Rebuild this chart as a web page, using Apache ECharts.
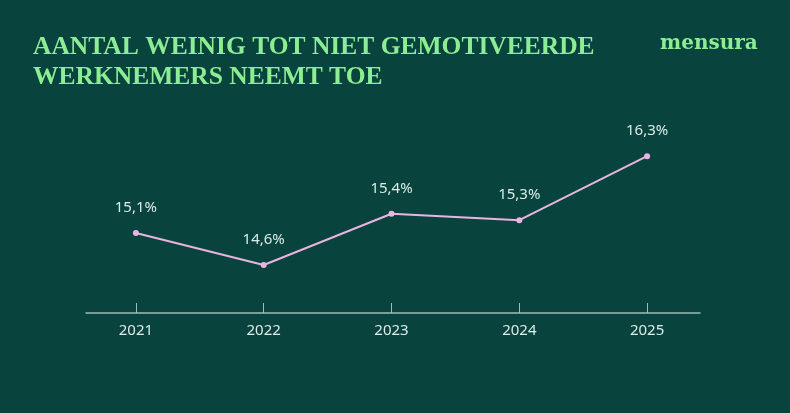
<!DOCTYPE html>
<html><head><meta charset="utf-8">
<script src="https://cdn.jsdelivr.net/npm/echarts@6/dist/echarts.min.js"></script>
<style>html,body{margin:0;padding:0;background:#08433d;}#c{width:790px;height:413px;}</style>
</head><body><div id="c"></div>
<script>
const years = ['2021','2022','2023','2024','2025'];
const values = [15.1, 14.6, 15.4, 15.3, 16.3];
const titleLines = ['AANTAL WEINIG TOT NIET GEMOTIVEERDE', 'WERKNEMERS NEEMT TOE'];
const brand = 'mensura';

const chart = echarts.init(document.getElementById('c'));
chart.setOption({
  backgroundColor: '#08433d',
  animation: false,
  title: [{
    text: titleLines.join('\n'),
    left: 28, top: 27,
    textStyle: { fontFamily: 'Liberation Serif', fontWeight: 'bold', fontSize: 25.5, color: '#8ded93', lineHeight: 30 }
  }, {
    text: brand,
    left: 655, top: 29,
    textStyle: { fontFamily: 'DejaVu Serif', fontWeight: 'bold', fontSize: 20, color: '#8ded93' }
  }],
  grid: [
    { left: 72, right: 79, top: 121, bottom: 100 },
    { left: 86, right: 90, top: 121, bottom: 100 }
  ],
  xAxis: [{
    type: 'category', data: years, gridIndex: 0, boundaryGap: true,
    axisLine: { show: false },
    axisTick: { show: true, inside: true, alignWithLabel: true, length: 10, lineStyle: { color: '#9dbcb5', width: 1 } },
    axisLabel: { color: '#d9ece6', fontFamily: 'Noto Sans', fontSize: 15, margin: 10 }
  }, {
    type: 'value', gridIndex: 1, min: 0, max: 1,
    axisLine: { show: true, onZero: false, lineStyle: { color: '#9dbcb5', width: 1.5 } },
    axisTick: { show: false }, axisLabel: { show: false }, splitLine: { show: false }
  }],
  yAxis: [{
    type: 'value', gridIndex: 0, min: 13.85, max: 16.85, show: false, splitLine: { show: false }
  }, {
    type: 'value', gridIndex: 1, min: 0, max: 1, show: false, splitLine: { show: false }
  }],
  series: [{
    type: 'line', xAxisIndex: 0, yAxisIndex: 0, data: values,
    symbol: 'circle', symbolSize: 6,
    lineStyle: { color: '#e9b5e0', width: 2 },
    itemStyle: { color: '#e9b5e0' },
    label: {
      show: true, position: 'top', distance: 15,
      formatter: p => p.value.toFixed(1).replace('.', ',') + '%',
      color: '#d9ece6', fontFamily: 'Noto Sans', fontSize: 15
    }
  }]
});
</script></body></html>
